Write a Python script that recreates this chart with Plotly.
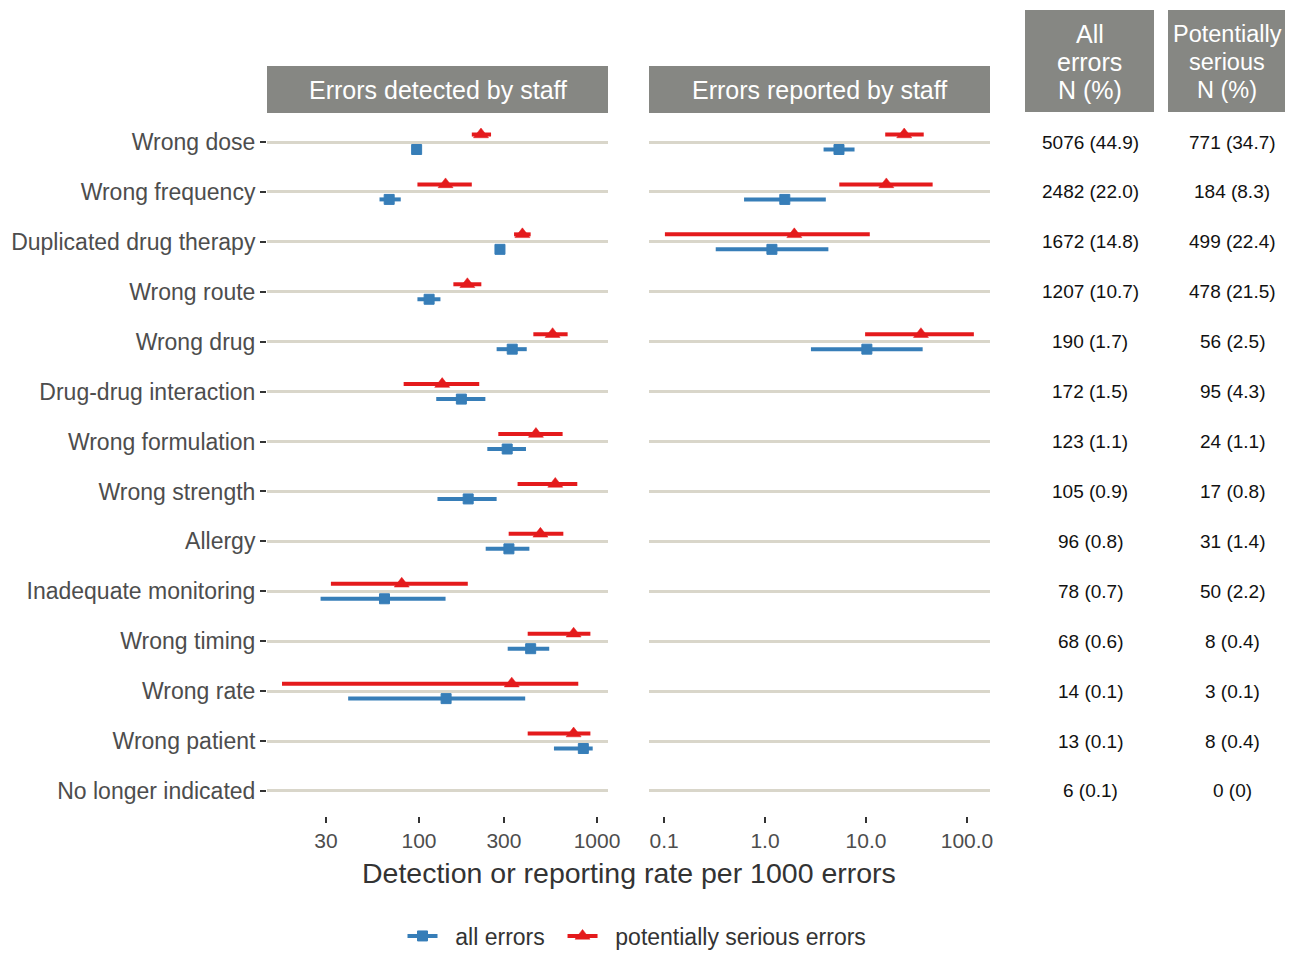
import plotly.graph_objects as go
import math

W, H = 1293, 962
PAD = 8  # page body margin
FW, FH = W - 2 * PAD, H - 2 * PAD

categories = ["Wrong dose", "Wrong frequency", "Duplicated drug therapy", "Wrong route",
              "Wrong drug", "Drug-drug interaction", "Wrong formulation", "Wrong strength",
              "Allergy", "Inadequate monitoring", "Wrong timing", "Wrong rate",
              "Wrong patient", "No longer indicated"]

# Errors detected by staff (rate per 1000 errors)
det_all_est = [97, 68, 285, 114, 334, 173, 313, 189, 320, 64, 424, 142, 838, None]
det_all_lo = [93, 60, 277, 98, 273, 125, 242, 127, 237, 28, 315, 40, 573, None]
det_all_hi = [101, 79, 294, 132, 403, 236, 399, 273, 417, 141, 539, 395, 946, None]
det_ser_est = [223, 141, 381, 187, 563, 135, 454, 583, 481, 80, 739, 332, 739, None]
det_ser_lo = [198, 98, 342, 156, 439, 82, 279, 358, 319, 32, 408, 17, 408, None]
det_ser_hi = [254, 198, 424, 224, 684, 218, 641, 775, 647, 188, 918, 785, 918, None]

# Errors reported by staff (rate per 1000 errors)
rep_all_est = [5.4, 1.57, 1.17, None, 10.2, None, None, None, None, None, None, None, None, None]
rep_all_lo = [3.8, 0.62, 0.325, None, 2.85, None, None, None, None, None, None, None, None, None]
rep_all_hi = [7.7, 4.0, 4.24, None, 36.4, None, None, None, None, None, None, None, None, None]
rep_ser_est = [23.9, 15.9, 1.95, None, 35.0, None, None, None, None, None, None, None, None, None]
rep_ser_lo = [15.5, 5.44, 0.102, None, 9.8, None, None, None, None, None, None, None, None, None]
rep_ser_hi = [37.3, 45.7, 10.9, None, 117.0, None, None, None, None, None, None, None, None, None]

# Table columns
all_errors_n = ["5076 (44.9)", "2482 (22.0)", "1672 (14.8)", "1207 (10.7)", "190 (1.7)",
                "172 (1.5)", "123 (1.1)", "105 (0.9)", "96 (0.8)", "78 (0.7)", "68 (0.6)",
                "14 (0.1)", "13 (0.1)", "6 (0.1)"]
serious_n = ["771 (34.7)", "184 (8.3)", "499 (22.4)", "478 (21.5)", "56 (2.5)", "95 (4.3)",
             "24 (1.1)", "17 (0.8)", "31 (1.4)", "50 (2.2)", "8 (0.4)", "3 (0.1)",
             "8 (0.4)", "0 (0)"]

left_ticks = [30, 100, 300, 1000]
left_ticktext = ["30", "100", "300", "1000"]
right_ticks = [0.1, 1, 10, 100]
right_ticktext = ["0.1", "1.0", "10.0", "100.0"]

panel_titles = ["Errors detected by staff", "Errors reported by staff"]
x_title = "Detection or reporting rate per 1000 errors"
series_names = ["all errors", "potentially serious errors"]

BLUE = "#377eb8"
RED = "#e41a1c"
FONT = "Liberation Sans, Arial, sans-serif"
STRIP = "#868783"
GRID = "#d9d6ca"
NB = "\u00a0"


def px(x):
    return (x - PAD) / FW


def py(y):
    return 1 - (y - PAD) / FH


OFF = 0.15


def seg(lo, hi, off):
    xs, ys = [], []
    for i, (a, b) in enumerate(zip(lo, hi)):
        if a is None:
            continue
        xs += [a, b, None]
        ys += [i + off, i + off, None]
    return xs, ys


def pts(est, off):
    xs, ys = [], []
    for i, v in enumerate(est):
        if v is None:
            continue
        xs.append(v)
        ys.append(i + off)
    return xs, ys


fig = go.Figure()

BLUE_MK = dict(color=BLUE, symbol="square", size=10, line=dict(color=BLUE, width=1))
RED_MK = dict(color=RED, symbol="triangle-up", size=13, line=dict(color=RED, width=0.5))

panels = [
    ("x", "y", det_all_est, det_all_lo, det_all_hi, det_ser_est, det_ser_lo, det_ser_hi),
    ("x2", "y2", rep_all_est, rep_all_lo, rep_all_hi, rep_ser_est, rep_ser_lo, rep_ser_hi),
]
for xa, ya, ae, al, ah, se, sl, sh in panels:
    for est, lo, hi, off, col, mk in [
        (ae, al, ah, OFF, BLUE, BLUE_MK),
        (se, sl, sh, -OFF, RED, RED_MK),
    ]:
        lx, ly = seg(lo, hi, off)
        fig.add_trace(go.Scatter(x=lx, y=ly, mode="lines", line=dict(color=col, width=4),
                                 xaxis=xa, yaxis=ya, showlegend=False, hoverinfo="skip"))
        mx, my = pts(est, off)
        fig.add_trace(go.Scatter(x=mx, y=my, mode="markers", marker=mk,
                                 xaxis=xa, yaxis=ya, showlegend=False))

# legend entries
legend_labels = [NB * 2 + series_names[0] + NB * 2, NB * 2 + series_names[1]]
for name, col, mk in [(legend_labels[0], BLUE, BLUE_MK), (legend_labels[1], RED, RED_MK)]:
    fig.add_trace(go.Scatter(x=[None], y=[None], mode="lines+markers", name=name,
                             line=dict(color=col, width=4), marker=mk,
                             xaxis="x", yaxis="y", showlegend=True))

row_px = 49.92
y_top = 142 - 0.5 * row_px
y_bot = 142 + 13.5 * row_px
ydom = [py(y_bot), py(y_top)]
n = len(categories)

axis_tick_font = dict(family=FONT, size=21, color="#4d4d4d")

fig.update_layout(
    width=FW, height=FH,
    margin=dict(l=0, r=0, t=0, b=0, pad=0, autoexpand=False),
    paper_bgcolor="white", plot_bgcolor="white",
    font=dict(family=FONT, color="#333333"),
    xaxis=dict(domain=[px(267), px(608)], type="log",
               range=[math.log10(14.0), math.log10(1153)],
               tickvals=left_ticks, ticktext=left_ticktext,
               showgrid=False, zeroline=False, showline=False, automargin=False,
               ticks="outside", ticklen=6, tickwidth=2, tickcolor="#333333",
               tickfont=axis_tick_font, anchor="y"),
    xaxis2=dict(domain=[px(649), px(990)], type="log",
                range=[-1.149, 2.228],
                tickvals=right_ticks, ticktext=right_ticktext,
                showgrid=False, zeroline=False, showline=False, automargin=False,
                ticks="outside", ticklen=6, tickwidth=2, tickcolor="#333333",
                tickfont=axis_tick_font, anchor="y2"),
    yaxis=dict(domain=ydom, range=[n - 0.5, -0.5],
               tickvals=list(range(n)), ticktext=categories,
               showgrid=True, gridcolor=GRID, gridwidth=2.5,
               zeroline=False, showline=False, automargin=False,
               ticks="outside", ticklen=6, tickwidth=2, tickcolor="#333333",
               tickfont=dict(family=FONT, size=23, color="#4d4d4d"), anchor="x"),
    yaxis2=dict(domain=ydom, range=[n - 0.5, -0.5], matches="y",
                tickvals=list(range(n)), showticklabels=False,
                showgrid=True, gridcolor=GRID, gridwidth=2.5, automargin=False,
                zeroline=False, showline=False, ticks="", anchor="x2"),
    legend=dict(orientation="h", x=px(637), xanchor="center", y=py(936), yanchor="middle",
                font=dict(family=FONT, size=23, color="#333333"),
                bgcolor="rgba(0,0,0,0)"),
    showlegend=True,
)

shapes = []
annotations = []

# strips
for (x0, x1), title in zip([(267, 608), (649, 990)], panel_titles):
    shapes.append(dict(type="rect", xref="paper", yref="paper",
                       x0=px(x0), x1=px(x1), y0=py(113), y1=py(66),
                       fillcolor=STRIP, line=dict(width=0), layer="below"))
    annotations.append(dict(text=title, xref="paper", yref="paper",
                            x=px((x0 + x1) / 2), y=py(90), showarrow=False,
                            xanchor="center", yanchor="middle",
                            font=dict(family=FONT, size=25, color="white")))

# table header boxes
headers = [["All", "errors", "N (%)"], ["Potentially", "serious", "N (%)"]]
for (x0, x1, xc, fs), lines in zip([(1025, 1154, 1089.5, 25), (1168, 1293, 1227, 23.5)], headers):
    shapes.append(dict(type="rect", xref="paper", yref="paper",
                       x0=px(x0), x1=px(x1), y0=py(112), y1=py(10),
                       fillcolor=STRIP, line=dict(width=0), layer="below"))
    for k, line in enumerate(lines):
        annotations.append(dict(text=line, xref="paper", yref="paper",
                                x=px(xc), y=py(34 + 28 * k), showarrow=False,
                                xanchor="center", yanchor="middle",
                                font=dict(family=FONT, size=fs, color="white")))

# table values
for i in range(n):
    for xc, txt in [(1090, all_errors_n[i]), (1232, serious_n[i])]:
        annotations.append(dict(text=txt, xref="paper", yref="y", x=px(xc), y=i,
                                showarrow=False, xanchor="center", yanchor="middle",
                                font=dict(family=FONT, size=19, color="#111111")))

# shared x axis title
annotations.append(dict(text=x_title, xref="paper", yref="paper",
                        x=px(628.5), y=py(873), showarrow=False,
                        xanchor="center", yanchor="middle",
                        font=dict(family=FONT, size=28.5, color="#333333")))

fig.update_layout(shapes=shapes, annotations=annotations)

fig.write_html("out.html")
